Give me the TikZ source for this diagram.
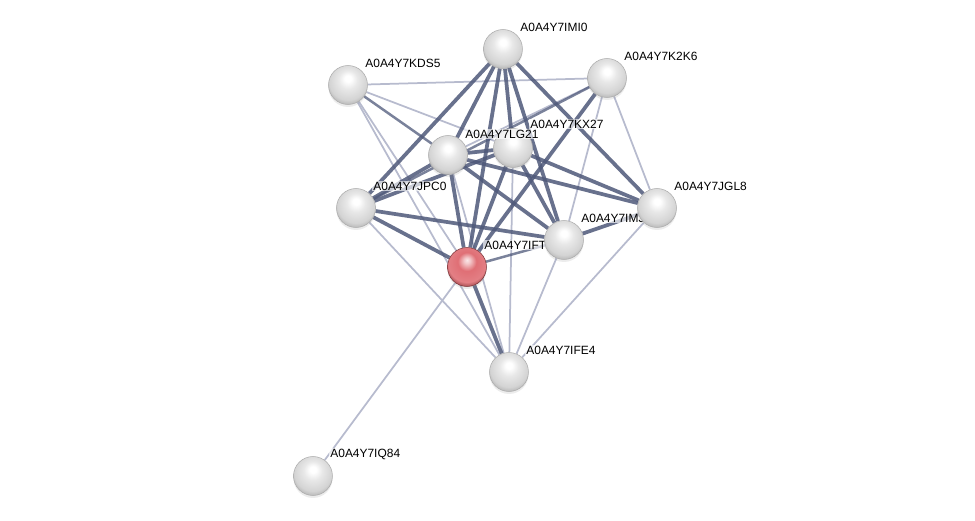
\documentclass[tikz,border=0pt]{standalone}
\usepackage{fontspec}
\setmainfont{Liberation Sans}
\usetikzlibrary{shadows,backgrounds}
\definecolor{EdgeDark}{HTML}{4E5879}
\definecolor{EdgeLight}{HTML}{B7BBCE}
\definecolor{BallRed}{HTML}{DC5F66}
\pgfdeclareradialshading{pearl}{\pgfqpoint{0bp}{9bp}}{%
  color(0bp)=(white); color(4bp)=(white); color(12bp)=(gray!18);
  color(24bp)=(gray!34); color(30bp)=(gray!60); color(50bp)=(gray!60)}
\pgfdeclareradialshading{ruby}{\pgfqpoint{0bp}{9bp}}{%
  color(0bp)=(BallRed!15!white); color(4bp)=(BallRed!35!white); color(12bp)=(BallRed!90!white);
  color(24bp)=(BallRed!80!white); color(30bp)=(BallRed!70!black); color(50bp)=(BallRed!70!black)}

\begin{document}
\begin{tikzpicture}[
    x=0.02cm, y=-0.02cm,
    prot/.style={circle, minimum size=0.78cm, inner sep=0pt, shading=pearl,
                 draw=gray!65, line width=0.3pt,
                 drop shadow={opacity=0.15, shadow xshift=0cm, shadow yshift=-0.05cm}},
    query/.style={prot, shading=ruby, draw=BallRed!55!black},
    lbl/.style={anchor=west, font=\fontsize{6.8}{8}\selectfont, fill=white, fill opacity=0.65,
                text opacity=1, inner sep=0.6pt},
    strong/.style={EdgeDark, line width=0.075cm, draw opacity=0.85},
    mid/.style={EdgeDark, line width=0.05cm, draw opacity=0.75},
    weak/.style={EdgeLight, line width=0.035cm}
  ]
    \useasboundingbox (0,0) rectangle (975,521);

    % proteins, each followed by its name
    \node[prot] (kds) at (348,85) {};
    \node[lbl] (kds-l) at ([shift={(16,-22)}]kds.center) {A0A4Y7KDS5};
    \node[prot] (imi) at (503,49) {};
    \node[lbl] (imi-l) at ([shift={(16,-22)}]imi.center) {A0A4Y7IMI0};
    \node[prot] (k2k) at (607,78) {};
    \node[lbl] (k2k-l) at ([shift={(16,-22)}]k2k.center) {A0A4Y7K2K6};
    \node[prot] (kx) at (513,148) {};
    \node[lbl] (kx-l) at ([shift={(16,-24)}]kx.center) {A0A4Y7KX27};
    \node[prot] (lg) at (448,155) {};
    \node[lbl] (lg-l) at ([shift={(16,-21)}]lg.center) {A0A4Y7LG21};
    \node[prot] (jpc) at (356,208) {};
    \node[lbl] (jpc-l) at ([shift={(16,-22)}]jpc.center) {A0A4Y7JPC0};
    \node[query] (ift) at (467,267) {};
    \node[lbl] (ift-l) at ([shift={(16,-22)}]ift.center) {A0A4Y7IFT};
    \node[prot] (imj) at (564,240) {};
    \node[lbl] (imj-l) at ([shift={(16,-22)}]imj.center) {A0A4Y7IMJ};
    \node[prot] (jgl) at (657,208) {};
    \node[lbl] (jgl-l) at ([shift={(16,-22)}]jgl.center) {A0A4Y7JGL8};
    \node[prot] (ife) at (509,372) {};
    \node[lbl] (ife-l) at ([shift={(16,-22)}]ife.center) {A0A4Y7IFE4};
    \node[prot] (iq) at (313,476) {};
    \node[lbl] (iq-l) at ([shift={(16,-22)}]iq.center) {A0A4Y7IQ84};

    \begin{scope}[on background layer]
      % weak links
      \draw[weak] (kds) -- (k2k);
      \draw[weak] (kds) -- (kx);
      \draw[weak] (kds) -- (ift);
      \draw[weak] (kds) -- (ife);
      \draw[weak] (k2k) -- (lg);
      \draw[weak] (k2k) -- (imj);
      \draw[weak] (k2k) -- (jgl);
      \draw[weak] (jpc) -- (ife);
      \draw[weak] (lg) -- (ife);
      \draw[weak] (kx) -- (ife);
      \draw[weak] (imj) -- (ife);
      \draw[weak] (jgl) -- (ife);
      \draw[weak] (ift) -- (iq);
      % medium links
      \draw[mid] (kds) -- (lg);
      \draw[mid] (k2k) -- (jpc);
      \draw[mid] (ift) -- (imj);
      % strong links
      \draw[strong] (imi) -- (jpc);
      \draw[strong] (imi) -- (lg);
      \draw[strong] (imi) -- (ift);
      \draw[strong] (imi) -- (kx);
      \draw[strong] (imi) -- (imj);
      \draw[strong] (imi) -- (jgl);
      \draw[strong] (lg) -- (jpc);
      \draw[strong] (lg) -- (kx);
      \draw[strong] (lg) -- (ift);
      \draw[strong] (lg) -- (imj);
      \draw[strong] (lg) -- (jgl);
      \draw[strong] (kx) -- (jpc);
      \draw[strong] (kx) -- (ift);
      \draw[strong] (kx) -- (imj);
      \draw[strong] (kx) -- (jgl);
      \draw[strong] (jpc) -- (ift);
      \draw[strong] (jpc) -- (imj);
      \draw[strong] (k2k) -- (ift);
      \draw[strong] (imj) -- (jgl);
      \draw[strong] (ift) -- (ife);
    \end{scope}
  \end{tikzpicture}
\end{document}
